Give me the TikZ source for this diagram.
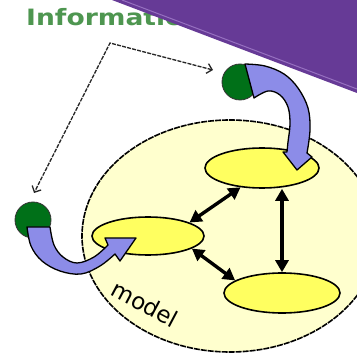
\documentclass[tikz,border=0pt]{standalone}
\usepackage{fontspec}
\setmainfont{DejaVu Sans}
\usetikzlibrary{arrows.meta,shapes.geometric}

\definecolor{bandpurple}{RGB}{102,58,150}
\definecolor{bandline}{RGB}{150,112,192}
\definecolor{infogreen}{RGB}{78,150,80}
\definecolor{modelfill}{RGB}{255,255,206}
\definecolor{partfill}{RGB}{255,255,96}
\definecolor{flowblue}{RGB}{140,140,232}
\definecolor{sourcegreen}{RGB}{0,112,24}

\tikzset{
  part/.style={ellipse, draw=black, line width=1.6pt, fill=partfill,
    minimum width=114pt, minimum height=40pt, inner sep=0pt},
  source/.style={circle, draw=black!80, line width=0.8pt, fill=sourcegreen,
    minimum size=36pt, inner sep=0pt},
  link/.style={line width=3.4pt, draw=black,
    {Triangle[length=12pt,width=13pt]}-{Triangle[length=12pt,width=13pt]}},
  pointer/.style={draw=black!85, line width=1.3pt, dash pattern=on 4pt off 1.2pt,
    {Straight Barb[length=5pt,width=10pt]}-{Straight Barb[length=5pt,width=10pt]}},
  flow/.style={fill=flowblue, draw=black, line width=1.3pt, line join=round},
}

\begin{document}
\begin{tikzpicture}[x=1pt,y=-1pt]
  \useasboundingbox (0,0) rectangle (357,353);
  \fill[white] (0,0) rectangle (357,353);

  % heading
  \node[anchor=base west, inner sep=0pt, text=infogreen,
        font=\fontsize{22.5}{26}\selectfont\bfseries] (info) at (26,26)
        {\scalebox{1.18}[1]{Information}};

  % the model: a large pale ellipse
  \node[ellipse, draw=black, line width=1.6pt, dash pattern=on 6pt off 1pt,
        fill=modelfill, minimum width=296pt, minimum height=232pt,
        inner sep=0pt] (model) at (230,236) {};

  % parts of the model
  \node[part] (top) at (262,168) {};
  \node[part, minimum width=112pt, minimum height=38pt] (mid) at (148,236) {};
  \node[part, minimum width=116pt] (bot) at (282,293) {};

  % interactions between parts
  \draw[link] (mid.18) -- (top.222);
  \draw[link] (mid.-16) -- (bot.165);
  \draw[link] (bot.north |- top.south) -- (bot.north);

  % information sources
  \node[source] (srcA) at (240,82) {};
  \node[source] (srcB) at (33,220) {};

  % dashed pointers to the sources
  \coordinate (bend) at (110,43);
  \coordinate (tipA) at (213,70);
  \coordinate (tipB) at (34,193);
  \draw[pointer] (tipA) -- (bend) -- (tipB);

  % flow from the upper source into the top part
  \filldraw[flow] (245,64) -- (254,98)
    -- plot[smooth,tension=0.6] coordinates {(254,98) (268,91) (280,95) (288,107) (290,124) (288,142) (287,152)}
    -- (283,152) -- (297,170) -- (312,157) -- (307,153)
    -- plot[smooth,tension=0.6] coordinates {(307,153) (310,130) (308,108) (298,88) (284,74) (265,66) (245,64)}
    -- cycle;

  % flow from the left source into the middle part
  \filldraw[flow] (27,227) -- (50,227)
    -- plot[smooth,tension=0.6] coordinates {(50,227) (54,245) (63,257) (77,263) (94,257) (108,245)}
    -- (105,238) -- (136,238) -- (120,261) -- (115,254)
    -- plot[smooth,tension=0.6] coordinates {(115,254) (100,266) (81,274) (60,271) (42,261) (31,246) (27,227)}
    -- cycle;

  % label of the model
  \node[rotate=-28, inner sep=0pt, font=\fontsize{23}{26}\selectfont] (modellabel)
        at (145,304) {model};

  % slide corner band
  \fill[bandpurple] (112,0) -- (357,0) -- (357,93) -- cycle;
  \draw[bandline, line width=1pt] (122,0) -- (357,89);
\end{tikzpicture}
\end{document}
